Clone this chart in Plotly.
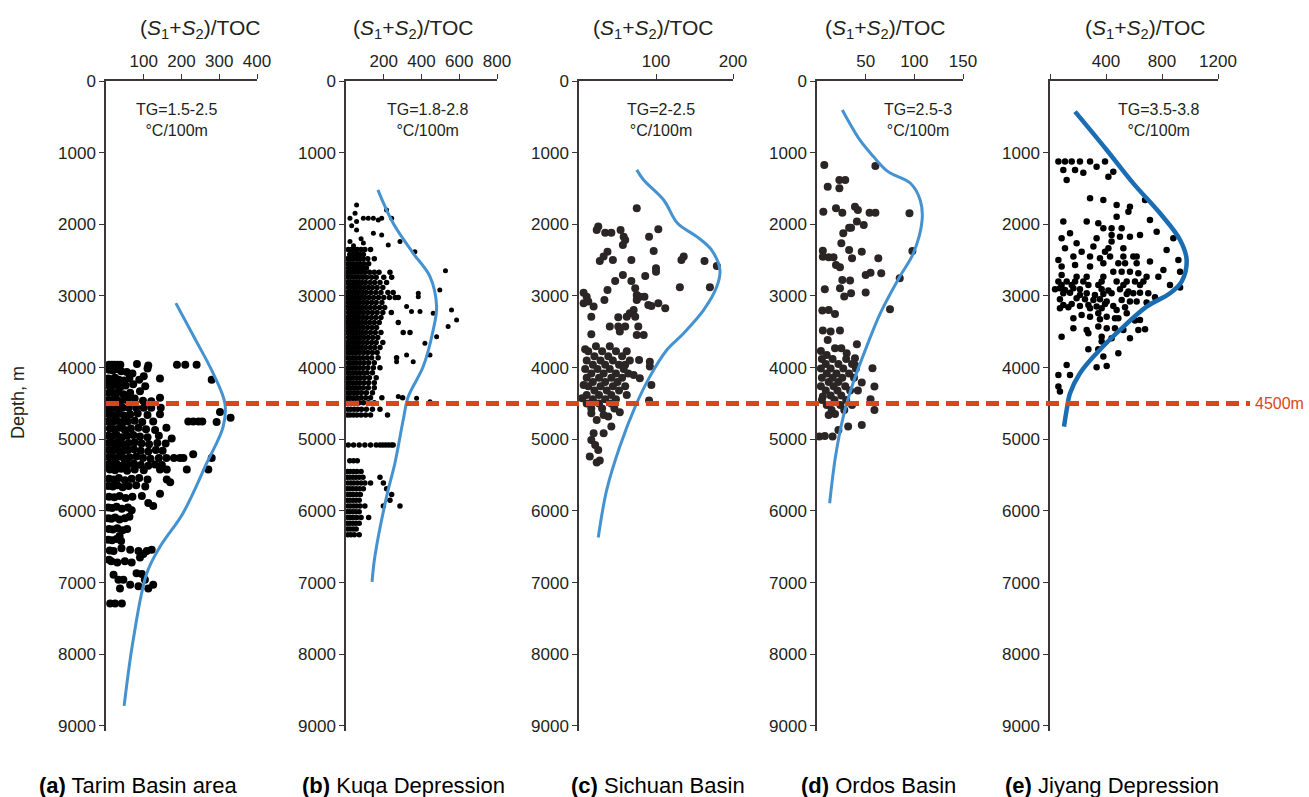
import plotly.graph_objects as go

# ------------------------------------------------------------------ data
depth_ticks = [0, 1000, 2000, 3000, 4000, 5000, 6000, 7000, 8000, 9000]

# (a) Tarim Basin area : (value, depth)
tarim_pts = [
    (8,3960),(15,3960),(22,3960),(30,3960),(38,3960),(82,3950),(112,3970),(188,3960),(210,3960),(240,3960),
    (8,4030),(18,4040),(28,4020),(40,4050),(55,4060),(70,4080),(110,4010),(100,4120),
    (6,4150),(14,4160),(24,4140),(34,4170),(48,4180),(62,4150),(88,4170),(143,4150),(280,4170),
    (7,4250),(16,4260),(26,4240),(38,4270),(52,4250),(72,4230),(104,4260),
    (8,4350),(20,4360),(32,4340),(46,4370),(64,4350),(90,4330),(60,4400),
    (6,4450),(14,4460),(28,4440),(40,4470),(56,4450),(76,4430),(98,4460),(120,4470),(143,4420),
    (6,4560),(16,4560),(30,4560),(44,4560),(60,4560),(80,4560),(100,4560),(120,4560),(145,4560),
    (8,4650),(20,4660),(34,4640),(48,4670),(64,4650),(84,4640),(110,4660),(143,4650),(302,4620),(330,4700),
    (6,4750),(18,4760),(30,4740),(44,4770),(58,4750),(76,4740),(96,4760),(125,4750),(218,4750),(231,4750),
    (245,4750),(255,4750),(293,4760),
    (10,4850),(22,4860),(36,4840),(50,4870),(66,4850),(86,4840),(106,4860),(130,4870),(160,4840),
    (6,4950),(16,4960),(28,4940),(42,4970),(56,4950),(72,4940),(90,4960),(110,4970),(140,4950),(174,4990),
    (8,5050),(20,5060),(32,5040),(46,5070),(60,5050),(76,5040),(94,5060),(114,5070),(136,5050),(158,5060),
    (6,5150),(18,5160),(30,5140),(44,5170),(58,5150),(74,5140),(92,5160),(112,5170),(132,5150),(150,5160),(231,5210),
    (8,5250),(20,5260),(34,5240),(48,5270),(62,5250),(80,5240),(98,5260),(118,5270),(140,5260),(160,5260),
    (180,5260),(196,5260),(205,5260),(280,5260),
    (6,5350),(16,5360),(28,5340),(42,5370),(58,5350),(74,5340),(92,5360),(112,5370),(130,5350),(148,5360),
    (10,5420),(24,5430),(40,5410),(56,5440),(76,5420),(100,5430),(143,5420),(161,5420),(214,5420),(271,5420),
    (8,5550),(20,5560),(34,5540),(50,5570),(68,5550),(88,5540),(110,5560),(161,5560),(170,5600),
    (6,5650),(18,5660),(30,5640),(44,5670),(60,5650),(80,5640),(104,5660),
    (8,5800),(22,5810),(36,5790),(52,5820),(70,5800),(95,5790),(112,5890),(125,5930),(143,5760),
    (6,5950),(16,5960),(28,5940),(42,5970),(58,5950),(68,5990),
    (6,6100),(14,6110),(24,6090),(36,6120),(50,6100),(62,6080),
    (8,6250),(18,6260),(30,6240),(44,6270),(56,6250),
    (6,6400),(16,6410),(28,6390),(40,6420),(36,6350),
    (10,6550),(20,6560),(41,6520),(64,6540),(86,6560),(108,6560),(121,6540),(99,6600),(90,6650),
    (8,6680),(14,6700),(30,6720),(50,6700),(68,6720),(81,6870),(95,6880),
    (20,6890),(33,6960),(46,6960),(37,7080),(64,7030),(86,7050),(112,7080),(125,7030),(103,6960),
    (11,7290),(24,7290),(42,7290),
]
tarim_curve_x = [185, 236, 283, 315, 310, 267, 204, 143, 108, 72, 48]
tarim_curve_d = [3100, 3600, 4070, 4500, 4830, 5330, 6030, 6500, 6870, 7800, 8720]

# (b) Kuqa Depression : rows of (depth, [values]) and isolated points
kuqa_rows = [
    (2350, [12, 28, 45, 60, 80, 100, 130]),
    (2420, [20, 38, 55, 72, 92]),
    (2480, [8, 20, 35, 52, 70, 90, 115, 150]),
    (2550, [10, 25, 40, 58, 75, 95, 120]),
    (2610, [14, 30, 46, 62, 84, 108]),
    (2670, [6, 18, 32, 48, 64, 82, 100, 125, 150, 175, 233]),
    (2740, [10, 24, 40, 56, 72, 90, 110, 135, 160, 200, 242]),
    (2810, [6, 20, 34, 50, 66, 84, 104, 128, 152, 180, 215]),
    (2880, [12, 26, 42, 58, 76, 96, 118, 140, 165, 195]),
    (2950, [8, 22, 38, 54, 70, 88, 108, 132, 158, 185, 222, 250]),
    (3020, [6, 18, 32, 48, 64, 82, 100, 122, 146, 172, 200, 230, 260, 277]),
    (3090, [10, 24, 40, 56, 72, 92, 112, 136, 160, 190]),
    (3160, [6, 20, 36, 52, 68, 86, 106, 128, 152, 178, 205]),
    (3230, [12, 26, 42, 58, 76, 94, 116, 140, 165, 195, 240]),
    (3300, [8, 22, 38, 54, 70, 90, 110, 134, 158, 185]),
    (3370, [6, 18, 34, 50, 66, 84, 104, 126, 150, 176, 277]),
    (3440, [10, 24, 40, 56, 74, 92, 114, 138, 162]),
    (3510, [6, 20, 36, 52, 68, 86, 106, 130, 155, 185, 303, 339]),
    (3580, [12, 26, 42, 58, 76, 96, 118, 142, 168]),
    (3650, [8, 22, 38, 54, 70, 90, 112, 136, 160, 195]),
    (3720, [6, 18, 34, 50, 66, 84, 104, 128, 152, 180]),
    (3790, [10, 24, 40, 56, 74, 94, 116, 140, 165]),
    (3860, [6, 20, 36, 52, 70, 90, 112, 136, 170, 268]),
    (3930, [12, 26, 42, 58, 76, 96, 120, 150]),
    (4000, [8, 22, 38, 54, 72, 92, 116, 145, 180]),
    (4070, [6, 20, 36, 52, 70, 90, 112, 140]),
    (4140, [10, 24, 40, 58, 76, 98, 124, 160]),
    (4210, [8, 22, 38, 56, 74, 96, 120, 150]),
    (4280, [6, 20, 36, 52, 70, 92, 118, 150]),
    (4350, [10, 26, 44, 62, 82, 108, 140]),
    (4420, [8, 22, 40, 58, 80, 104, 130, 190, 300]),
    (4490, [6, 20, 36, 52, 70, 92, 118, 150]),
    (4580, [10, 26, 44, 62, 82, 108, 140, 180]),
    (4660, [8, 22, 40, 58, 80, 104, 130, 220]),
    (5080, [12, 40, 70, 100, 130, 160, 180, 195, 210, 225, 240, 250]),
    (5300, [20, 40, 60]),
    (5450, [8, 22, 40, 58, 80]),
    (5530, [6, 20, 36, 52, 70, 90, 180]),
    (5610, [10, 26, 42, 60, 80, 100, 130, 198]),
    (5690, [6, 20, 36, 54, 72, 92, 215]),
    (5770, [10, 24, 40, 58, 76, 242]),
    (5850, [6, 20, 36, 52, 70, 233]),
    (5930, [10, 24, 40, 56, 74, 100, 198, 286]),
    (6010, [6, 20, 36, 52, 70]),
    (6090, [10, 24, 40, 58, 80, 120]),
    (6170, [6, 20, 36, 52, 70]),
    (6250, [8, 22, 38, 54]),
    (6330, [10, 26, 44, 70]),
]
kuqa_pts = [
    (56,1730),(48,1846),(21,1916),(56,1962),(92,1916),(118,1916),(145,1916),(171,1940),(189,1916),(215,1800),
    (242,1916),(145,2125),(189,2148),(224,2288),(286,2241),(365,2381),(56,2080),(21,2241),(92,2260),(30,2020),
    (80,2200),(40,2300),
    (527,2646),(497,2915),(383,2962),(383,3010),(321,3148),(347,3218),(392,3218),(462,3241),(559,3195),
    (586,3334),(541,3427),(480,3567),(418,3660),(445,3823),(321,3823),(268,3916),(356,3916),(374,4427),
    (445,4474),(277,4404),
]
kuqa_curve_x = [169, 250, 356, 445, 480, 462, 409, 330, 303, 259, 215, 153, 138]
kuqa_curve_d = [1520, 1986, 2404, 2730, 3148, 3474, 3985, 4404, 4730, 5334, 5800, 6635, 6990]

# (c) Sichuan Basin
sichuan_pts = [
    (75,1776),(23,2079),(25,2032),(34,2116),(42,2116),(54,2079),(58,2172),(60,2218),(57,2288),(91,2172),(103,2069),
    (37,2381),(32,2450),(27,2511),(44,2497),(68,2497),(97,2371),
    (136,2450),(133,2497),(163,2511),(179,2581),
    (100,2613),(100,2660),(86,2720),(57,2706),(47,2790),(68,2790),(37,2916),
    (131,2879),(170,2879),
    (73,2893),(75,2985),(79,3009),(85,3009),(75,3055),(90,3125),(94,3139),(103,3102),(112,3172),
    (6,2953),(10,3009),(6,3102),(12,3078),(19,3148),(33,3055),
    (16,3288),(51,3297),(62,3288),(66,3241),(71,3195),(73,3288),
    (40,3427),(51,3427),(60,3427),(53,3497),(16,3534),(75,3543),(84,3543),(77,3427),
    (8,3743),(92,3916),(92,3985),(78,3892),(71,4102),(79,4148),(94,4241),(91,4459),(53,4622),(4,4427),(6,4241),
    (16,4636),(32,4660),(38,4683),(23,4729),(42,4822),(32,4915),(19,4915),(16,5008),(21,5078),(25,5148),
    (14,5241),(23,5324),(27,5296),
]
sichuan_rows = [
    (3700, [22, 40]),
    (3770, [12, 30, 48, 62]),
    (3840, [20, 38, 56]),
    (3900, [10, 28, 44, 66]),
    (3960, [18, 34, 52, 60]),
    (4020, [8, 24, 40, 58]),
    (4080, [16, 32, 48, 64]),
    (4140, [10, 26, 42, 56]),
    (4200, [18, 34, 50]),
    (4260, [12, 28, 44, 60]),
    (4320, [20, 36, 52]),
    (4380, [10, 26, 42, 62]),
    (4440, [18, 34, 48]),
    (4500, [10, 26, 42]),
    (4570, [16, 30, 46]),
]
sichuan_curve_x = [75, 84, 110, 128, 153, 172, 183, 179, 162, 136, 114, 92, 73, 53, 36, 25]
sichuan_curve_d = [1240, 1381, 1660, 1986, 2172, 2357, 2637, 2869, 3195, 3520, 3753, 4125, 4543, 5101, 5706, 6370]

# (d) Ordos Basin
ordos_pts = [
    (7.5,1172),(60,1186),(11,1474),(23,1497),(23,1381),(29,1381),
    (6.5,1823),(19.5,1776),(26,1837),(39,1753),(42,1800),(41,1962),(48,2009),(54,1837),(60,1837),(95,1846),
    (33,2046),(35,2046),(27,2125),(25,2265),(33,2357),(36,2474),(46,2381),(63,2474),(98,2371),
    (6,2367),(6,2451),(12,2460),(17,2460),(19.5,2567),(23.6,2600),(26,2776),(34,2785),(23.6,2892),(28,3008),
    (35,2962),(50,2706),(55,2674),(66,2683),(50,2952),(85,2753),(75,3185),
    (8,2906),(5.5,3204),(12,3195),(18.5,3250),(6,3483),(14,3497),(23.6,3483),(11,3613),
    (4,3766),(10,3822),(18.5,3729),(25,3729),(30.5,3799),(41,3673),(39,3869),(39,3962),
    (57,4008),(59,4264),(55,4441),(46,4208),(42,4320),(59,4590),
    (12,4660),(18.5,4645),(22,4869),(32,4822),(46,4799),(2.4,4962),(8,4952),(16,4962),(6,4404),
]
ordos_rows = [
    (3880, [5, 16, 30]),
    (3950, [9, 22, 36]),
    (4010, [4, 14, 27, 40]),
    (4080, [10, 20, 33]),
    (4140, [5, 16, 26, 38]),
    (4200, [12, 22]),
    (4260, [4, 17, 29]),
    (4320, [9, 21, 34]),
    (4390, [14, 25]),
    (4450, [5, 18, 30]),
    (4520, [10, 24, 36]),
    (4590, [15, 28]),
]
ordos_curve_x = [26, 44, 58, 73, 96, 106, 108, 99, 85, 65, 51, 37, 27, 19, 13]
ordos_curve_d = [405, 823, 1055, 1265, 1427, 1660, 1939, 2404, 2730, 3241, 3706, 4218, 4683, 5241, 5892]

# (e) Jiyang Depression
jiyang_pts = [
    (60,1125),(107,1125),(155,1125),(214,1125),(286,1125),(393,1125),
    (95,1241),(179,1241),(238,1279),(333,1195),(452,1265),(417,1335),(119,1381),
    (286,1637),(381,1660),(679,1660),(476,1730),(571,1753),(560,1823),(476,1893),
    (95,1962),(262,1962),(345,1986),(714,1939),(381,2055),(440,2055),(512,2055),
    (143,2125),(440,2148),(571,2172),(643,2148),(762,2102),
    (83,2195),(333,2195),(500,2172),(881,2195),(190,2265),(440,2241),(524,2334),
    (107,2334),(310,2311),(417,2334),(833,2357),(226,2381),(393,2381),
    (167,2450),(286,2450),(357,2474),(429,2450),(524,2450),(595,2450),(619,2450),
    (60,2497),(917,2497),
    (83,2590),(179,2567),(286,2590),(381,2543),(488,2543),(536,2543),(619,2543),(714,2520),
    (452,2660),(512,2660),(571,2660),(631,2683),(810,2636),(929,2660),
    (83,2706),(190,2730),(262,2730),(381,2730),(690,2730),(774,2730),
    (60,2799),(119,2799),(179,2799),(238,2799),(369,2799),(476,2799),(548,2799),(607,2799),(667,2799),(929,2883),
    (83,2846),(155,2846),(274,2846),(345,2846),(524,2846),(643,2846),(857,2846),
    (36,2906),(71,2892),(107,2916),(167,2892),(214,2906),(369,2906),(417,2925),(500,2906),(560,2939),
    (95,2962),(143,2953),(214,2985),(262,2962),(321,2985),(381,2971),(440,2962),(548,2971),(595,2962),
    (643,2953),(702,2962),(750,3018),
    (71,3046),(190,3032),(250,3046),(310,3055),(357,3046),(405,3078),(512,3055),(571,3078),(690,3092),
    (95,3125),(155,3111),(214,3139),(274,3125),(333,3148),(393,3111),(452,3139),(619,3078),
    (71,3171),(131,3157),(286,3171),(369,3171),(476,3195),(536,3157),
    (226,3264),(345,3241),(405,3288),(548,3241),
    (167,3311),(286,3288),(357,3325),(464,3311),(488,3311),(607,3343),(643,3334),
    (167,3450),(262,3474),(345,3427),(405,3450),(464,3450),(524,3474),(631,3474),(679,3464),
    (274,3520),(83,3567),(369,3567),(440,3590),(571,3590),(369,3636),
    (274,3743),(345,3743),(488,3799),(381,3846),(119,3962),(333,3994),(405,3976),
    (60,4101),(143,4101),(60,4264),(71,4334),
]
jiyang_curve_x = [179, 405, 595, 786, 929, 976, 940, 857, 690, 500, 333, 214, 143, 119, 100]
jiyang_curve_d = [428, 963, 1428, 1846, 2218, 2497, 2799, 2962, 3148, 3474, 3799, 4078, 4357, 4589, 4822]

threshold_depth = 4500

# ------------------------------------------------------------------ helpers
def flatten_rows(rows):
    xs, ds = [], []
    for d, vals in rows:
        for v in vals:
            xs.append(v)
            ds.append(d)
    return xs, ds

def unzip(pts):
    return [p[0] for p in pts], [p[1] for p in pts]

# ------------------------------------------------------------------ layout geometry
W, H = 1309, 797
FONT = "Liberation Sans, Arial, sans-serif"
INK = "#231f20"
AXC = "#3b3536"
BLUE = "#4592d0"
BLUE_E = "#1a6cb3"
ORANGE = "#d9461b"

def fx(p):
    return p / W

def fy(p):
    return 1 - p / H

Y_TOP, Y_BOT = 81, 731
Y_RANGE = [9070, 0]

panels = [
    dict(x0=106, x1=257, xmax=400, tv=[100, 200, 300, 400], tt=None, yt=depth_ticks,
         title_x=200, tg_x=176, tg="TG=1.5-2.5", lab_x=37, lab="<b>(a)</b> Tarim Basin area"),
    dict(x0=346, x1=497, xmax=800, tv=[200, 400, 600, 800], tt=None, yt=depth_ticks,
         title_x=413, tg_x=427, tg="TG=1.8-2.8", lab_x=300, lab="<b>(b)</b> Kuqa Depression"),
    dict(x0=579, x1=733, xmax=200, tv=[100, 200], tt=None, yt=depth_ticks,
         title_x=653, tg_x=661, tg="TG=2-2.5", lab_x=569, lab="<b>(c)</b> Sichuan Basin"),
    dict(x0=817, x1=963, xmax=150, tv=[50, 100, 150], tt=None, yt=depth_ticks,
         title_x=885, tg_x=918, tg="TG=2.5-3", lab_x=799, lab="<b>(d)</b> Ordos Basin"),
    dict(x0=1050, x1=1218, xmax=1200, tv=[0, 400, 800, 1200], tt=["", "400", "800", "1200"],
         yt=depth_ticks[1:], title_x=1145, tg_x=1158, tg="TG=3.5-3.8", lab_x=1003,
         lab="<b>(e)</b> Jiyang Depression"),
]

fig = go.Figure()

# ------------------------------------------------------------------ traces
ax = ["x", "x2", "x3", "x4", "x5"]
ay = ["y", "y2", "y3", "y4", "y5"]

def dots(xs, ds, i, size, color):
    fig.add_trace(go.Scatter(x=xs, y=ds, xaxis=ax[i], yaxis=ay[i], mode="markers",
                             marker=dict(size=size, color=color, line=dict(width=0)),
                             cliponaxis=False, showlegend=False, hoverinfo="x+y"))

def curve(xs, ds, i, color, width):
    fig.add_trace(go.Scatter(x=xs, y=ds, xaxis=ax[i], yaxis=ay[i], mode="lines",
                             line=dict(color=color, width=width, shape="spline", smoothing=1.0),
                             cliponaxis=False, showlegend=False, hoverinfo="skip"))

x, d = unzip(tarim_pts)
dots(x, d, 0, 8, "#000000")
curve(tarim_curve_x, tarim_curve_d, 0, BLUE, 3)

x, d = flatten_rows(kuqa_rows)
dots(x, d, 1, 5.5, "#000000")
x, d = unzip(kuqa_pts)
dots(x, d, 1, 5, "#000000")
curve(kuqa_curve_x, kuqa_curve_d, 1, BLUE, 3)

x, d = unzip(sichuan_pts)
dots(x, d, 2, 8, "#2b2526")
x, d = flatten_rows(sichuan_rows)
dots(x, d, 2, 8, "#2b2526")
curve(sichuan_curve_x, sichuan_curve_d, 2, BLUE, 3)

x, d = unzip(ordos_pts)
dots(x, d, 3, 8, "#2b2526")
x, d = flatten_rows(ordos_rows)
dots(x, d, 3, 8, "#2b2526")
curve(ordos_curve_x, ordos_curve_d, 3, BLUE, 3)

x, d = unzip(jiyang_pts)
dots(x, d, 4, 6.5, "#000000")
curve(jiyang_curve_x, jiyang_curve_d, 4, BLUE_E, 4.5)

# ------------------------------------------------------------------ axes
layout = dict(
    width=W, height=H, autosize=False, margin=dict(l=0, r=0, t=0, b=0, pad=0, autoexpand=False),
    paper_bgcolor="white", plot_bgcolor="white", showlegend=False,
    font=dict(family=FONT, color=INK),
)
annotations = []
for i, p in enumerate(panels):
    xk = "xaxis" if i == 0 else f"xaxis{i+1}"
    yk = "yaxis" if i == 0 else f"yaxis{i+1}"
    xa = dict(domain=[fx(p["x0"]), fx(p["x1"])], anchor=ay[i], side="top", automargin=False,
              range=[0, p["xmax"]], tickvals=p["tv"], showgrid=False, zeroline=False,
              showline=True, linecolor=AXC, linewidth=1.5, ticks="outside", ticklen=5,
              tickwidth=1.2, tickcolor=AXC, tickfont=dict(size=17, family=FONT, color=INK))
    if p["tt"] is not None:
        xa["ticktext"] = p["tt"]
    ya = dict(domain=[fy(Y_BOT), fy(Y_TOP)], anchor=ax[i], range=Y_RANGE, automargin=False,
              tickvals=p["yt"], showgrid=False, zeroline=False, showline=True,
              linecolor=AXC, linewidth=1.5, ticks="outside", ticklen=5, tickwidth=1.2,
              tickcolor=AXC, tickfont=dict(size=17, family=FONT, color=INK))
    layout[xk] = xa
    layout[yk] = ya
    annotations.append(dict(xref="paper", yref="paper", x=fx(p["title_x"]), y=fy(29),
                            text="(<i>S</i><sub>1</sub>+<i>S</i><sub>2</sub>)/TOC",
                            showarrow=False, xanchor="center", yanchor="middle",
                            font=dict(size=21, family=FONT, color=INK)))
    annotations.append(dict(xref="paper", yref="paper", x=fx(p["tg_x"]), y=fy(120),
                            text=p["tg"] + "<br>°C/100m", showarrow=False,
                            xanchor="center", yanchor="middle", align="center",
                            font=dict(size=16, family=FONT, color=INK)))
    annotations.append(dict(xref="paper", yref="paper", x=fx(p["lab_x"]), y=fy(785),
                            text=p["lab"], showarrow=False, xanchor="left", yanchor="middle",
                            font=dict(size=22, family=FONT, color="#000000")))

annotations.append(dict(xref="paper", yref="paper", x=fx(18), y=fy(403), text="Depth, m",
                        textangle=-90, showarrow=False, xanchor="center", yanchor="middle",
                        font=dict(size=18, family=FONT, color=INK)))
annotations.append(dict(xref="paper", yref="y", x=fx(1306), y=threshold_depth, text="4500m",
                        showarrow=False, xanchor="right", yanchor="middle",
                        font=dict(size=16, family=FONT, color=ORANGE)))

layout["annotations"] = annotations
layout["shapes"] = [dict(type="line", xref="paper", yref="y", x0=fx(106), x1=fx(1250),
                         y0=threshold_depth, y1=threshold_depth, layer="above",
                         line=dict(color=ORANGE, width=5, dash="13px,7px"))]

fig.update_layout(**layout)
fig.write_html("out.html")
